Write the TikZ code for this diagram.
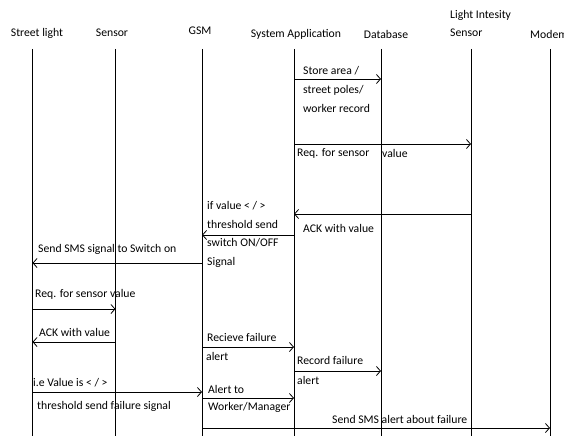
\documentclass[tikz,border=0pt]{standalone}
\usepackage{fontspec}
\setmainfont{Carlito}
\usetikzlibrary{arrows.meta}
\begin{document}
\begin{tikzpicture}[x=1pt,y=-1pt,font=\fontsize{11.7}{14}\selectfont,
    lbl/.style={anchor=west,inner sep=0pt},
    life/.style={line width=0.8pt},
    msg/.style={line width=0.8pt,-{Straight Barb[length=4pt,width=9pt]}}]
    \useasboundingbox (0,0) rectangle (564,436);
    % heads of the lifelines
    \node[inner sep=0pt] (hsl) at (37,33) {Street light}; \node[inner sep=0pt] (hsen) at (112,33) {Sensor};
    \node[inner sep=0pt] (hgsm) at (200,31) {GSM}; \node[inner sep=0pt] (hsys) at (296,34) {System Application};
    \node[inner sep=0pt] (hdb) at (386,34) {Database};
    \node[lbl] (hlis) at (450,15) {Light Intesity}; \node[lbl] (hlis2) at (450,33) {Sensor};
    \node[lbl] (hmod) at (530,34) {Modem};
    % lifelines
    \coordinate (sl) at (32.5,49); \coordinate (sen) at (115.5,49); \coordinate (gsm) at (202,49);
    \coordinate (sys) at (294,49); \coordinate (db) at (381,49); \coordinate (lis) at (471,49);
    \coordinate (mod) at (550,49); \coordinate (bot) at (0,436);
    \foreach \l in {sl,sen,gsm,sys,db,lis,mod} \draw[life] (\l) -- (\l |- bot);
    % message heights
    \coordinate (m1) at (0,79); \coordinate (m2) at (0,144); \coordinate (m3) at (0,214);
    \coordinate (m4) at (0,235); \coordinate (m5) at (0,263); \coordinate (m6) at (0,309);
    \coordinate (m7) at (0,342); \coordinate (m8) at (0,347); \coordinate (m9) at (0,371);
    \coordinate (m10) at (0,392); \coordinate (m11) at (0,398); \coordinate (m12) at (0,428);
    % messages
    \draw[msg] (sys |- m1) -- (db |- m1);
    \draw[msg] (sys |- m2) -- (lis |- m2);
    \draw[msg] (lis |- m3) -- (sys |- m3);
    \draw[msg] (sys |- m4) -- (gsm |- m4);
    \draw[msg] (gsm |- m5) -- (sl |- m5);
    \draw[msg] (sl |- m6) -- (sen |- m6);
    \draw[msg] (sen |- m7) -- (sl |- m7);
    \draw[msg] (gsm |- m8) -- (sys |- m8);
    \draw[msg] (sys |- m9) -- (db |- m9);
    \draw[msg] (sl |- m10) -- (gsm |- m10);
    \draw[msg] (gsm |- m11) -- (sys |- m11);
    \draw[msg] (gsm |- m12) -- (mod |- m12);
    % labels
    \node[lbl] (t1a) at (303,71) {Store area /}; \node[lbl] (t1b) at (303,90) {street poles/};
    \node[lbl] (t1c) at (303,108) {worker record};
    \node[lbl] (t2a) at (297,153) {Req. for sensor}; \node[lbl] (t2b) at (382,153) {value};
    \node[lbl] (t3) at (303,228) {ACK with value};
    \node[lbl] (t4a) at (207,206) {if value < / >}; \node[lbl] (t4b) at (207,224) {threshold send};
    \node[lbl] (t4c) at (207,243) {switch ON/OFF}; \node[lbl] (t4d) at (207,262) {Signal};
    \node[lbl] (t5) at (38,249) {Send SMS signal to Switch on};
    \node[lbl] (t6) at (35,294) {Req. for sensor value};
    \node[lbl] (t7) at (39,332) {ACK with value};
    \node[lbl] (t8a) at (207,337) {Recieve failure}; \node[lbl] (t8b) at (206,356) {alert};
    \node[lbl] (t9a) at (297,360) {Record failure}; \node[lbl] (t9b) at (297,380) {alert};
    \node[lbl] (t10a) at (33,383) {i.e Value is < / >}; \node[lbl] (t10b) at (37,406) {threshold send failure signal};
    \node[lbl] (t11a) at (208,389) {Alert to}; \node[lbl] (t11b) at (208,407) {Worker/Manager};
    \node[lbl] (t12) at (332,419) {Send SMS alert about failure};
\end{tikzpicture}
\end{document}
